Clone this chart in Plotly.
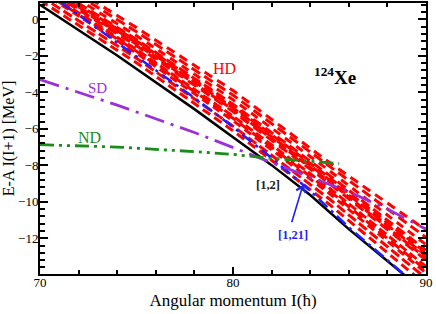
import plotly.graph_objects as go

# ---------------- data ----------------
I_red = [70, 75, 80, 85, 90]
red_lines = [
    [1.05, -2.38, -6.10, -10.15, -14.55],
    [1.30, -2.13, -5.85, -9.85, -14.20],
    [1.55, -1.85, -5.55, -9.55, -13.90],
    [1.62, -1.75, -5.42, -9.40, -13.75],
    [1.70, -1.65, -5.30, -9.25, -13.55],
    [1.85, -1.45, -5.05, -9.00, -13.20],
    [1.92, -1.36, -4.95, -8.90, -13.08],
    [2.00, -1.28, -4.85, -8.80, -12.95],
    [2.10, -1.18, -4.75, -8.68, -12.80],
    [2.20, -1.10, -4.65, -8.55, -12.65],
    [2.40, -0.90, -4.40, -8.30, -12.35],
    [2.65, -0.68, -4.15, -8.05, -11.95],
    [2.85, -0.45, -3.90, -7.85, -11.55],
]
red_dashes = ["9px,5px", "10px,4px", "8px,5px", "11px,5px", "9px,4px",
              "10px,6px", "8px,4px", "11px,4px", "9px,5px", "10px,5px",
              "8px,6px", "10px,5px", "9px,6px"]

I_black = [70, 74, 78, 80, 82, 84, 86, 88, 90]
E_black = [0.80, -1.98, -4.92, -6.45, -7.99, -9.63, -11.50, -13.25, -15.00]

I_blue = [70, 74, 78, 80, 82, 84, 86, 88, 90]
E_blue = [1.75, -1.30, -4.30, -5.90, -7.60, -9.40, -11.40, -13.20, -15.00]

I_sd = [70, 74, 78, 82, 86, 88, 90]
E_sd = [-3.30, -4.70, -6.20, -7.85, -9.45, -10.40, -11.50]

I_nd = [70, 74, 78, 80, 82, 84, 85.5]
E_nd = [-6.87, -7.00, -7.25, -7.40, -7.62, -7.80, -7.90]

FONT = "Liberation Serif, Times New Roman, serif"
RED = "#ff0000"
BLUE = "#1f1fff"
PURPLE = "#9b30d9"
GREEN = "#1a8c1a"

fig = go.Figure()

for vals, dsh in zip(red_lines, red_dashes):
    fig.add_trace(go.Scatter(x=I_red, y=vals, mode="lines",
                             line=dict(color=RED, width=3, dash=dsh),
                             hoverinfo="skip", showlegend=False))

fig.add_trace(go.Scatter(x=I_black, y=E_black, mode="lines",
                         line=dict(color="black", width=2.5),
                         showlegend=False))
fig.add_trace(go.Scatter(x=I_blue, y=E_blue, mode="lines",
                         line=dict(color=BLUE, width=2.5, dash="12px,5px,3px,5px"),
                         showlegend=False))
fig.add_trace(go.Scatter(x=I_sd, y=E_sd, mode="lines",
                         line=dict(color=PURPLE, width=2.8, dash="20px,7px,3px,7px"),
                         showlegend=False))
fig.add_trace(go.Scatter(x=I_nd, y=E_nd, mode="lines",
                         line=dict(color=GREEN, width=2.8,
                                   dash="14px,5px,3px,5px,3px,5px"),
                         showlegend=False))

ann = [
    dict(x=79.57, y=-2.67, text="HD", font=dict(family=FONT, size=16, color=RED)),
    dict(x=72.98, y=-3.75, text="SD", font=dict(family=FONT, size=15, color=PURPLE)),
    dict(x=72.59, y=-6.49, text="ND", font=dict(family=FONT, size=16, color=GREEN)),
    dict(x=85.29, y=-3.11, text="<b><sup>124</sup>Xe</b>",
         font=dict(family=FONT, size=19, color="black")),
    dict(x=81.82, y=-9.10, text="<b>[1,2]</b>",
         font=dict(family=FONT, size=12.5, color="#222222")),
    dict(x=83.09, y=-11.80, text="<b>[1,21]</b>",
         font=dict(family=FONT, size=12.5, color=BLUE)),
]
for a in ann:
    fig.add_annotation(xref="x", yref="y", showarrow=False,
                       xanchor="center", yanchor="middle", **a)

fig.add_annotation(x=83.62, y=-9.10, ax=83.02, ay=-11.21, axref="x", ayref="y",
                   xref="x", yref="y", text="", showarrow=True,
                   arrowcolor=BLUE, arrowwidth=1.6, arrowhead=4, arrowsize=1.2)

fig.update_xaxes(range=[70, 90], tickmode="linear", tick0=70, dtick=10,
                 showgrid=False, zeroline=False, showline=True,
                 linecolor="black", linewidth=2, mirror="allticks",
                 ticks="inside", ticklen=7, tickwidth=2, tickcolor="black",
                 minor=dict(dtick=2, tick0=70, ticklen=4, ticks="inside",
                            tickcolor="black", tickwidth=1.5, showgrid=False),
                 automargin=False, ticklabelstandoff=-5,
                 tickfont=dict(family=FONT, size=13, color="black"),
                 title=dict(text="Angular momentum I(ħ)", standoff=6,
                            font=dict(family=FONT, size=17, color="black")))
fig.update_yaxes(range=[-13.96, 0.9], tickmode="linear", tick0=0, dtick=2,
                 showgrid=False, zeroline=False, showline=True,
                 linecolor="black", linewidth=2, mirror="allticks",
                 ticks="inside", ticklen=8, tickwidth=2, tickcolor="black",
                 minor=dict(dtick=0.4, tick0=0, ticklen=5, ticks="inside",
                            tickcolor="black", tickwidth=1.5, showgrid=False),
                 automargin=False, ticklabelstandoff=-3,
                 tickfont=dict(family=FONT, size=13, color="black"),
                 title=dict(text="E-A I(I+1) [MeV]", standoff=4,
                            font=dict(family=FONT, size=16, color="black")))

fig.update_layout(template="none", width=436, height=314,
                  margin=dict(l=40, r=10, t=3, b=40, autoexpand=False),
                  paper_bgcolor="white", plot_bgcolor="white",
                  font=dict(family=FONT, color="black"))

fig.write_html("out.html", config={"displayModeBar": False},
               post_script="document.body.style.margin='0px';"
                           "document.body.style.padding='0px';")
